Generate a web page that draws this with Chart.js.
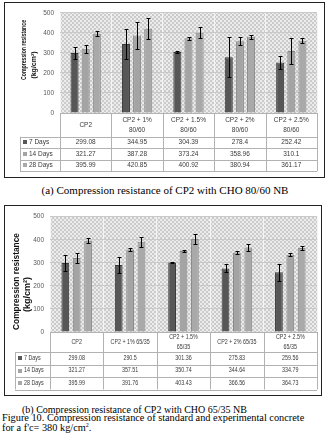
<!DOCTYPE html>
<html>
<head>
<meta charset="utf-8">
<script src="https://cdn.jsdelivr.net/npm/chart.js@4.4.1/dist/chart.umd.min.js"></script>
<style>
  html, body { margin: 0; padding: 0; background: #fff; }
  body { width: 330px; height: 439px; position: relative; overflow: hidden;
         font-family: 'Liberation Serif', 'Times New Roman', serif; color: #000; }
  .box { position: absolute; border: 1px solid #222; box-sizing: border-box; background: #fff; }
  .box canvas { position: absolute; left: 0; top: 0; }
  .cap { position: absolute; white-space: nowrap; line-height: 1; }
  .sup { font-size: 6px; vertical-align: 4px; }
</style>
</head>
<body>
<div class="box" style="left:4px;top:2px;width:321px;height:176px">
  <canvas id="chartA" width="319" height="174"></canvas>
</div>
<div class="cap" style="left:0;width:330px;text-align:center;top:185px;font-size:11px">(a) Compression resistance of CP2 with CHO 80/60 NB</div>

<div class="box" style="left:4px;top:205px;width:318px;height:191px">
  <canvas id="chartB" width="316" height="189"></canvas>
</div>
<div class="cap" style="left:22px;top:405px;font-size:10px">(b) Compression resistance of CP2 with CHO 65/35 NB</div>
<div class="cap" style="left:2px;top:413px;font-size:10.3px">Figure 10. Compression resistance of standard and experimental concrete</div>
<div class="cap" style="left:2px;top:422px;font-size:10.3px">for a f'c= 380 kg/cm<span class="sup">2</span>.</div>

<script>
// Series names (curing age)
const seriesNames = ['7 Days', '14 Days', '28 Days'];

// (a) CP2 with CHO 80/60 NB
const categoriesA = [['CP2'], ['CP2 + 1%', '80/60'], ['CP2 + 1.5%', '80/60'], ['CP2 + 2%', '80/60'], ['CP2 + 2.5%', '80/60']];
const days7A  = [299.08, 344.95, 304.39, 278.4, 252.42];
const days14A = [321.27, 387.28, 373.24, 358.96, 310.1];
const days28A = [395.99, 420.85, 400.92, 380.94, 361.17];
const err7A   = [29, 74, 5, 101, 32];
const err14A  = [20, 67, 8, 20, 65];
const err28A  = [13, 52, 28, 10, 14];

// (b) CP2 with CHO 65/35 NB
const categoriesB = [['CP2'], ['CP2 + 1% 65/35'], ['CP2 + 1.5%', '65/35'], ['CP2 + 2% 65/35'], ['CP2 + 2.5%', '65/35']];
const days7B  = [299.08, 290.5, 301.36, 275.83, 259.56];
const days14B = [321.27, 357.51, 350.74, 344.64, 334.79];
const days28B = [395.99, 391.76, 403.43, 366.56, 364.73];
const err7B   = [33, 33, 3, 17, 37];
const err14B  = [22, 8, 4, 7, 6];
const err28B  = [12, 21, 20, 16, 8];

// Axis ticks
const yTicks = [0, 100, 200, 300, 400, 500];
const yTitleLines = ['Compression resistance', '(kg/cm²)'];

const FILL = ['#575757', '#a4a4a4', '#a9a9a9'];
const EDGE = ['#383838', '#888888', '#8c8c8c'];

function hatchPattern(ctx) {
  const c = document.createElement('canvas');
  c.width = c.height = 4;
  const g = c.getContext('2d');
  g.fillStyle = '#ececec';
  g.fillRect(0, 0, 4, 4);
  g.fillStyle = '#cbcbcb';
  for (let i = 0; i < 4; i++) { g.fillRect(i, i, 1, 1); g.fillRect(3 - i, i, 1, 1); }
  return ctx.createPattern(c, 'repeat');
}

function squeezedText(ctx, s, x, y, align, sx) {
  ctx.save();
  ctx.translate(x, y);
  ctx.scale(sx, 1);
  ctx.textAlign = align;
  ctx.fillText(s, 0, 0);
  ctx.restore();
}

function buildChart(id, cats, values, errs, L) {
  const plotBg = {
    id: 'plotBg',
    beforeDraw(chart) {
      const { ctx, chartArea: a } = chart;
      ctx.save();
      ctx.fillStyle = hatchPattern(ctx);
      ctx.fillRect(a.left, a.top, a.right - a.left, a.bottom - a.top);
      ctx.restore();
    }
  };

  const errorBars = {
    id: 'errorBars',
    afterDatasetsDraw(chart) {
      const { ctx } = chart;
      const y = chart.scales.y;
      ctx.save();
      ctx.strokeStyle = '#000';
      ctx.lineWidth = 1;
      chart.data.datasets.forEach((ds, k) => {
        chart.getDatasetMeta(k).data.forEach((bar, i) => {
          const v = ds.data[i], e = errs[k][i];
          const yt = Math.round(y.getPixelForValue(v + e)) + 0.5;
          const yb = Math.round(y.getPixelForValue(v - e)) + 0.5;
          const x = Math.round(bar.x) + 0.5;
          ctx.beginPath();
          ctx.moveTo(x, yt); ctx.lineTo(x, yb);
          ctx.moveTo(x - 2, yt); ctx.lineTo(x + 2, yt);
          ctx.moveTo(x - 2, yb); ctx.lineTo(x + 2, yb);
          ctx.stroke();
        });
      });
      ctx.restore();
    }
  };

  const dataTable = {
    id: 'dataTable',
    afterDraw(chart) {
      const { ctx, chartArea: a } = chart;
      const xs = chart.scales.x;
      const n = cats.length;
      const half = (a.right - a.left) / n / 2;
      const top = a.bottom;
      const hb = top + L.headH;
      const bottom = hb + 3 * L.rowH;
      const px = v => Math.round(v) + 0.5;
      ctx.save();
      ctx.strokeStyle = '#b2b2b2';
      ctx.lineWidth = 1;
      ctx.beginPath();
      ctx.moveTo(a.left, px(top)); ctx.lineTo(a.right, px(top));
      for (let r = 0; r <= 3; r++) {
        const yy = px(hb + r * L.rowH);
        ctx.moveTo(L.legLeft, yy); ctx.lineTo(a.right, yy);
      }
      ctx.moveTo(px(L.legLeft), hb); ctx.lineTo(px(L.legLeft), bottom);
      for (let i = 0; i <= n; i++) {
        const xx = i < n ? xs.getPixelForValue(i) - half : xs.getPixelForValue(n - 1) + half;
        ctx.moveTo(px(xx), top); ctx.lineTo(px(xx), bottom);
      }
      ctx.stroke();

      ctx.fillStyle = '#3a3a3a';
      ctx.textBaseline = 'middle';
      ctx.font = L.tableFont;
      const hc = top + L.headH / 2;
      cats.forEach((lines, i) => {
        const cx = xs.getPixelForValue(i);
        lines.forEach((s, j) => {
          const yy = hc + (j - (lines.length - 1) / 2) * L.headGap;
          squeezedText(ctx, s, cx, yy, 'center', L.sx);
        });
        values.forEach((vals, k) => {
          squeezedText(ctx, String(vals[i]), cx, hb + (k + 0.5) * L.rowH, 'center', L.sx);
        });
      });
      seriesNames.forEach((name, k) => {
        const yy = hb + (k + 0.5) * L.rowH;
        ctx.fillStyle = FILL[k];
        ctx.fillRect(L.legLeft + 3, Math.round(yy - 2), 4, 4);
        ctx.fillStyle = '#3a3a3a';
        squeezedText(ctx, name, L.legLeft + 9, yy, 'left', L.sx);
      });
      ctx.restore();
    }
  };

  const axisTitle = {
    id: 'axisTitle',
    afterDraw(chart) {
      const { ctx } = chart;
      ctx.save();
      ctx.fillStyle = '#111';
      ctx.font = L.titleFont;
      ctx.textAlign = 'center';
      ctx.textBaseline = 'middle';
      L.titlePos.forEach((p, j) => {
        ctx.save();
        ctx.translate(p[0], p[1]);
        ctx.rotate(-Math.PI / 2);
        ctx.fillText(yTitleLines[j], 0, 0, p[2]);
        ctx.restore();
      });
      ctx.restore();
    }
  };

  return new Chart(document.getElementById(id), {
    type: 'bar',
    data: {
      labels: cats,
      datasets: values.map((vals, k) => ({
        label: seriesNames[k],
        data: vals,
        backgroundColor: FILL[k],
        borderColor: EDGE[k],
        borderWidth: 1,
        categoryPercentage: L.catPct,
        barPercentage: L.barPct
      }))
    },
    options: {
      responsive: false,
      animation: false,
      devicePixelRatio: 1,
      layout: { padding: { top: L.top, right: L.right, bottom: L.bottom, left: 0 } },
      plugins: { legend: { display: false }, tooltip: { enabled: false } },
      scales: {
        x: {
          grid: { offset: true, color: '#f4f4f4', drawTicks: false },
          border: { display: false },
          ticks: { display: false },
          afterFit(s) { s.height = 0; }
        },
        y: {
          min: yTicks[0],
          max: yTicks[yTicks.length - 1],
          afterBuildTicks(s) { s.ticks = yTicks.map(v => ({ value: v })); },
          ticks: { color: '#595959', padding: L.tickPad,
                   font: { family: "'Liberation Sans', Arial, sans-serif", size: L.tickSize } },
          grid: { color: '#c9c9c9', drawTicks: false },
          border: { display: false },
          afterFit(s) { s.width = L.plotLeft; }
        }
      }
    },
    plugins: [plotBg, errorBars, dataTable, axisTitle]
  });
}

buildChart('chartA', categoriesA, [days7A, days14A, days28A], [err7A, err14A, err28A], {
  top: 8.7, right: 7, bottom: 64, plotLeft: 55,
  catPct: 0.65, barPct: 0.72,
  tickSize: 6.5, tickPad: 6,
  headH: 23.7, rowH: 11.5, headGap: 10, legLeft: 15,
  tableFont: "6.5px 'Liberation Sans', Arial, sans-serif", sx: 1,
  titleFont: "bold 7px 'Liberation Sans', Arial, sans-serif",
  titlePos: [[18.7, 47, 60], [28.7, 62, 30]]
});

buildChart('chartB', categoriesB, [days7B, days14B, days28B], [err7B, err14B, err28B], {
  top: 10.7, right: 4, bottom: 63, plotLeft: 45,
  catPct: 0.64, barPct: 0.68,
  tickSize: 6.5, tickPad: 6,
  headH: 20, rowH: 12.5, headGap: 10, legLeft: 10,
  tableFont: "6.3px 'Liberation Sans', Arial, sans-serif", sx: 0.85,
  titleFont: "bold 9px 'Liberation Sans', Arial, sans-serif",
  titlePos: [[11.7, 75.5, 97], [22.3, 88.5, 35]]
});
</script>
</body>
</html>
